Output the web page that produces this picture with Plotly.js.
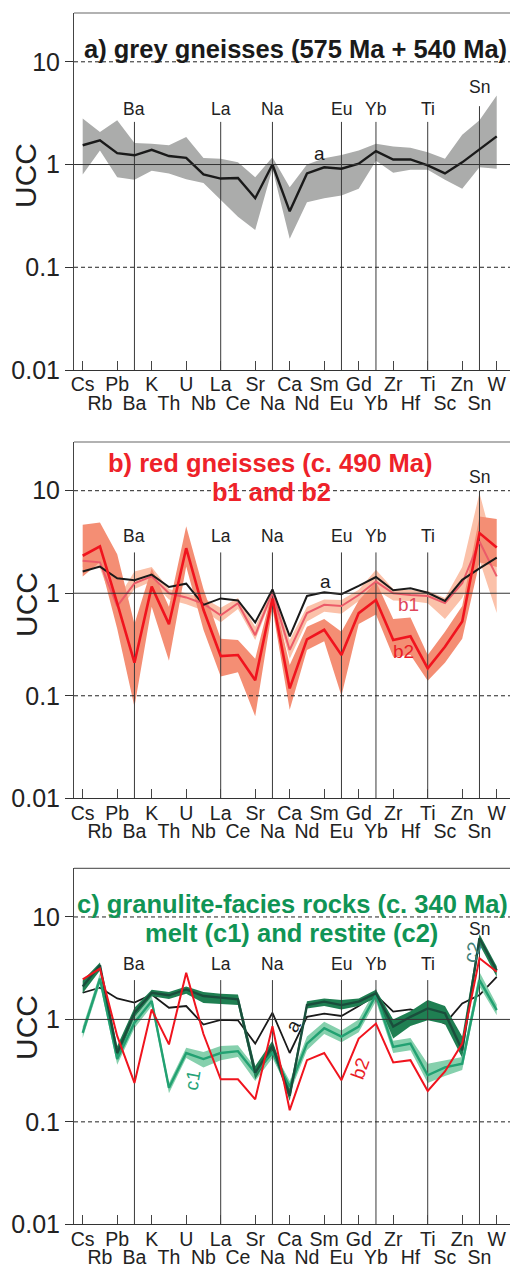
<!DOCTYPE html>
<html>
<head>
<meta charset="utf-8">
<script src="https://cdn.plot.ly/plotly-3.0.1.min.js"></script>
<style>
  html, body { margin: 0; padding: 0; background: #fff; overflow: hidden; }
  #chart { width: 510px; height: 1265px; }
</style>
</head>
<body>
<div id="chart"></div>
<script>
// Upper-continental-crust normalised multi-element patterns (log scale)
const elements = ['Cs','Rb','Pb','Ba','K','Th','U','Nb','La','Ce','Sr','Na','Ca','Nd','Sm','Eu','Gd','Yb','Zr','Hf','Ti','Sc','Zn','Sn','W'];
const guideElements = ['Ba','La','Na','Eu','Yb','Ti','Sn'];
const yTickVals = [0.01, 0.1, 1, 10];
const yTickText = ['0.01', '0.1', '1', '10'];

// a) grey gneisses: mean pattern and envelope
const greyMean = [1.54,1.72,1.29,1.23,1.39,1.21,1.16,0.80,0.73,0.74,0.47,1.00,0.35,0.82,0.94,0.91,1.02,1.35,1.12,1.12,0.98,0.82,1.05,1.42,1.88];
const greyHi   = [2.80,2.07,2.70,1.62,1.59,1.54,1.85,1.16,1.14,1.05,0.75,1.18,0.60,1.00,1.15,1.24,1.37,1.59,1.50,1.46,1.32,1.14,1.95,2.70,4.70];
const greyLo   = [0.80,1.37,0.75,0.71,0.87,0.82,0.72,0.66,0.45,0.31,0.23,0.91,0.19,0.43,0.47,0.50,0.58,1.09,0.83,0.89,0.89,0.71,0.58,0.94,0.91];

// b) red gneisses: grey-gneiss reference, b1 and b2 groups
const greyRefB = [1.63,1.82,1.40,1.34,1.52,1.15,1.24,0.77,0.89,0.85,0.52,1.09,0.38,0.94,1.02,0.98,1.18,1.44,1.07,1.12,1.01,0.84,1.35,1.75,2.22];
const b1Mean = [2.07,2.00,0.75,1.25,1.46,1.00,0.91,0.79,0.61,0.80,0.39,1.02,0.28,0.64,0.77,0.75,0.96,1.30,1.00,0.96,0.94,0.80,1.25,3.20,1.46];
const b1Hi   = [2.30,2.30,0.87,1.63,1.80,1.10,1.00,0.90,0.72,0.90,0.47,1.10,0.35,0.74,0.87,0.86,1.08,1.69,1.10,1.08,1.05,0.90,1.80,9.50,2.20];
const b1Lo   = [1.80,1.75,0.62,1.10,1.30,0.87,0.78,0.68,0.52,0.70,0.35,0.93,0.23,0.53,0.66,0.63,0.84,1.08,0.85,0.84,0.80,0.56,0.90,2.10,0.64];
const b2Mean = [2.32,2.86,0.80,0.21,1.16,0.50,2.75,0.69,0.244,0.25,0.142,0.89,0.118,0.355,0.44,0.25,0.64,0.86,0.35,0.38,0.185,0.30,0.53,3.86,2.79];
const b2Hi   = [4.65,4.90,2.40,0.50,1.75,0.74,4.50,1.10,0.36,0.35,0.23,1.08,0.20,0.47,0.56,0.42,0.85,1.30,0.56,0.58,0.25,0.42,0.75,5.60,5.30];
const b2Lo   = [1.46,2.00,0.45,0.078,0.74,0.22,1.82,0.44,0.154,0.17,0.063,0.71,0.073,0.28,0.34,0.10,0.50,0.62,0.24,0.25,0.14,0.21,0.36,2.00,1.80];

// c) granulite-facies rocks: references a and b2, melt c1 and restite c2
const greyRefC = [1.82,2.04,1.60,1.46,1.75,1.30,1.35,0.89,0.99,0.98,0.58,1.16,0.47,1.06,1.14,1.08,1.35,1.73,1.19,1.25,1.10,0.91,1.43,1.73,2.60];
const b2RefC   = [2.46,3.13,0.69,0.24,1.25,0.57,2.86,0.72,0.26,0.26,0.166,0.86,0.13,0.40,0.47,0.255,0.65,0.91,0.38,0.40,0.20,0.31,0.58,3.95,2.92];
const c1Mean = [0.74,2.50,0.41,0.93,1.51,0.215,0.47,0.41,0.47,0.49,0.30,0.47,0.22,0.58,0.82,0.68,0.85,1.73,0.54,0.58,0.285,0.34,0.37,2.42,1.23];
const c1Hi   = [0.85,2.80,0.48,1.05,1.70,0.24,0.53,0.48,0.55,0.56,0.34,0.52,0.25,0.68,0.95,0.78,1.00,2.00,0.62,0.66,0.37,0.40,0.43,2.90,1.40];
const c1Lo   = [0.66,2.20,0.36,0.82,1.35,0.19,0.42,0.34,0.40,0.43,0.25,0.42,0.19,0.50,0.72,0.60,0.75,1.50,0.47,0.50,0.24,0.28,0.32,2.10,1.10];
const c2Mean = [2.10,3.37,0.47,1.16,1.82,1.72,1.96,1.69,1.63,1.57,0.30,0.55,0.18,1.38,1.49,1.38,1.49,1.80,0.85,1.06,1.28,1.15,0.50,6.20,3.00];
const c2Hi   = [2.40,3.60,0.55,1.30,1.95,1.85,2.10,1.85,1.78,1.75,0.35,0.62,0.21,1.50,1.60,1.55,1.60,1.95,1.00,1.20,1.55,1.35,0.68,6.80,3.30];
const c2Lo   = [1.80,3.00,0.41,1.05,1.68,1.58,1.78,1.45,1.42,1.38,0.26,0.49,0.16,1.28,1.35,1.25,1.35,1.62,0.65,0.86,0.98,0.90,0.42,5.40,2.60];

// ---- page geometry ----
const W = 510, H = 1265, L = 74;
const FONT = 'Liberation Sans, Arial, Helvetica, sans-serif';
const X_RANGE = [-0.504, 24.77];
const Y_MAX = 1.475;
const pxX = p => (p - L) / (W - L);   // pixel column -> paper x
const pxY = p => (H - p) / H;         // pixel row -> paper y

const idx = elements.map((_, i) => i);
const evenIdx = idx.filter(i => i % 2 === 0), oddIdx = idx.filter(i => i % 2 === 1);
const evenNames = evenIdx.map(i => elements[i]), oddNames = oddIdx.map(i => elements[i]);

const panels = [
  { xa: 'x',  ya: 'y',  xo: 'x4', top: 13,    bottom: 370,    guideTop: 2.6,  snTop: 3.7, guideShift: 1, snShift: 7,  uccY: 176 },
  { xa: 'x2', ya: 'y2', xo: 'x5', top: 442,   bottom: 798.3,  guideTop: 2.5,  snTop: 10,  guideShift: 4, snShift: 2,  uccY: 605 },
  { xa: 'x3', ya: 'y3', xo: 'x6', top: 868.3, bottom: 1224.3, guideTop: 2.42, snTop: 6.2, guideShift: 4, snShift: -3, uccY: 1028 }
];
const axisKey = id => 'xaxis' + id.slice(1);
const yKey = id => 'yaxis' + id.slice(1);

function band(lo, hi, color, p) {
  return { x: idx.concat(idx.slice().reverse()), y: hi.concat(lo.slice().reverse()),
    xaxis: p.xa, yaxis: p.ya, mode: 'lines', fill: 'toself', fillcolor: color,
    line: { width: 0 }, hoverinfo: 'skip' };
}
function pattern(vals, color, width, p) {
  return { x: idx, y: vals, xaxis: p.xa, yaxis: p.ya, mode: 'lines',
    line: { color: color, width: width, shape: 'linear' }, hoverinfo: 'skip' };
}
function guides(p) {
  const xs = [], ys = [];
  guideElements.forEach(el => {
    const i = elements.indexOf(el);
    xs.push(i, i, null);
    ys.push(0.01, el === 'Sn' ? p.snTop : p.guideTop, null);
  });
  return { x: xs, y: ys, xaxis: p.xa, yaxis: p.ya, mode: 'lines',
    line: { color: '#3a3a3a', width: 1 }, hoverinfo: 'skip' };
}
// empty trace so the second label row (odd elements) gets its own axis drawn
function labelRow(p) {
  return { x: [], y: [], xaxis: p.xo, yaxis: p.ya, mode: 'lines', hoverinfo: 'skip' };
}

const [pa, pb, pc] = panels;
const data = [
  // a
  band(greyLo, greyHi, '#abacab', pa),
  guides(pa),
  pattern(greyMean, '#1a1a1a', 2.4, pa),
  // b
  band(b1Lo, b1Hi, '#fbc1a9', pb),
  band(b2Lo, b2Hi, '#f48e74', pb),
  guides(pb),
  pattern(b1Mean, '#ec5b69', 2, pb),
  pattern(greyRefB, '#1a1a1a', 2, pb),
  pattern(b2Mean, '#f0141e', 2.6, pb),
  // c
  pattern(greyRefC, '#1a1a1a', 1.8, pc),
  band(c1Lo, c1Hi, '#86d0ad', pc),
  band(c2Lo, c2Hi, '#1f7f52', pc),
  guides(pc),
  pattern(c1Mean, '#22a172', 2.4, pc),
  pattern(c2Mean, '#1a4e3c', 2.4, pc),
  pattern(b2RefC, '#f0141e', 2, pc),
  labelRow(pa), labelRow(pb), labelRow(pc)
];

const layout = {
  width: W, height: H,
  margin: { l: L, r: 0, t: 0, b: 0 },
  showlegend: false,
  paper_bgcolor: '#ffffff', plot_bgcolor: '#ffffff',
  font: { family: FONT, color: '#222' },
  shapes: [], annotations: []
};

panels.forEach(p => {
  layout[yKey(p.ya)] = {
    domain: [pxY(p.bottom), pxY(p.top)], anchor: p.xa, type: 'log', range: [-2, Y_MAX],
    tickvals: yTickVals, ticktext: yTickText, ticks: 'outside', ticklen: 8, tickcolor: '#333',
    showline: true, linecolor: '#444', linewidth: 1, showgrid: false, zeroline: false,
    tickfont: { family: FONT, size: 25, color: '#222' }, fixedrange: true
  };
  layout[axisKey(p.xa)] = {
    domain: [0, 1], anchor: p.ya, range: X_RANGE,
    tickvals: evenIdx, ticktext: evenNames, ticks: 'inside', ticklen: 9, tickcolor: '#444',
    showline: true, linecolor: '#333', linewidth: 1, showgrid: false, zeroline: false,
    tickangle: 0, ticklabelstandoff: -3,
    tickfont: { family: FONT, size: 19.5, color: '#222' }, fixedrange: true
  };
  layout[axisKey(p.xo)] = {
    overlaying: p.xa, anchor: p.ya, side: 'bottom', range: X_RANGE,
    tickvals: oddIdx, ticktext: oddNames, ticks: '', showline: false, showgrid: false,
    zeroline: false, tickangle: 0, ticklabelstandoff: 19,
    tickfont: { family: FONT, size: 19.5, color: '#222' }, fixedrange: true
  };

  // reference levels: 10 and 0.1 dashed, 1 solid; frame top
  const dref = p.xa + ' domain';
  [10, 0.1].forEach(v => layout.shapes.push({ type: 'line', xref: dref, x0: 0, x1: 1, yref: p.ya, y0: v, y1: v,
    line: { color: '#222', width: 1, dash: '4px,3px' }, layer: 'above' }));
  layout.shapes.push({ type: 'line', xref: dref, x0: 0, x1: 1, yref: p.ya, y0: 1, y1: 1,
    line: { color: '#333', width: 1 }, layer: 'above' });
  layout.shapes.push({ type: 'line', xref: dref, x0: 0, x1: 1, yref: p.ya + ' domain', y0: 1, y1: 1,
    line: { color: '#666', width: 1.2 }, layer: 'above' });

  // element names on top of the guide lines
  guideElements.forEach(el => {
    const isSn = el === 'Sn';
    layout.annotations.push({ xref: p.xa, yref: p.ya, x: elements.indexOf(el),
      y: Math.log10(isSn ? p.snTop : p.guideTop), yanchor: 'bottom', xanchor: 'center',
      yshift: isSn ? p.snShift : p.guideShift, text: el, showarrow: false,
      font: { family: FONT, size: 17.5, color: '#222' } });
  });

  // axis title
  layout.annotations.push({ xref: 'paper', yref: 'paper', x: pxX(26), y: pxY(p.uccY),
    xanchor: 'center', yanchor: 'middle', text: 'UCC', textangle: -90, showarrow: false,
    font: { family: FONT, size: 30, color: '#222' } });
});

function title(text, cx, cy, color) {
  layout.annotations.push({ xref: 'paper', yref: 'paper', x: pxX(cx), y: pxY(cy),
    xanchor: 'center', yanchor: 'middle', text: '<b>' + text + '</b>', showarrow: false,
    font: { family: FONT, size: 25.5, color: color } });
}
title('a) grey gneisses (575 Ma + 540 Ma)', 295.5, 49, '#1a1a1a');
title('b) red gneisses (c. 490 Ma)', 270.5, 463, '#ee2229');
title('b1 and b2', 271.7, 492, '#ee2229');
title('c) granulite-facies rocks (c. 340 Ma)', 292, 904, '#109455');
title('melt (c1) and restite (c2)', 291, 933, '#109455');

function tag(p, text, x, y, color, angle) {
  layout.annotations.push({ xref: p.xa, yref: p.ya, x: x, y: y, text: text, showarrow: false,
    xanchor: 'center', yanchor: 'middle', textangle: angle || 0,
    font: { family: FONT, size: 19, color: color } });
}
tag(pa, 'a', 13.75, 0.104, '#1a1a1a');
tag(pb, 'a', 14.05, 0.11, '#1a1a1a');
tag(pb, 'b1', 18.86, -0.114, '#e0465a');
tag(pb, 'b2', 18.57, -0.573, '#ea1c26');
tag(pc, 'a', 12.19, -0.056, '#1a1a1a', -60);
tag(pc, 'c1', 6.34, -0.592, '#26a377', -80);
tag(pc, 'b2', 16.07, -0.475, '#ea1c26', -70);
tag(pc, 'c2', 22.57, 0.657, '#3f7f78', -70);

Plotly.newPlot('chart', data, layout, { staticPlot: true, displayModeBar: false });
</script>
</body>
</html>
